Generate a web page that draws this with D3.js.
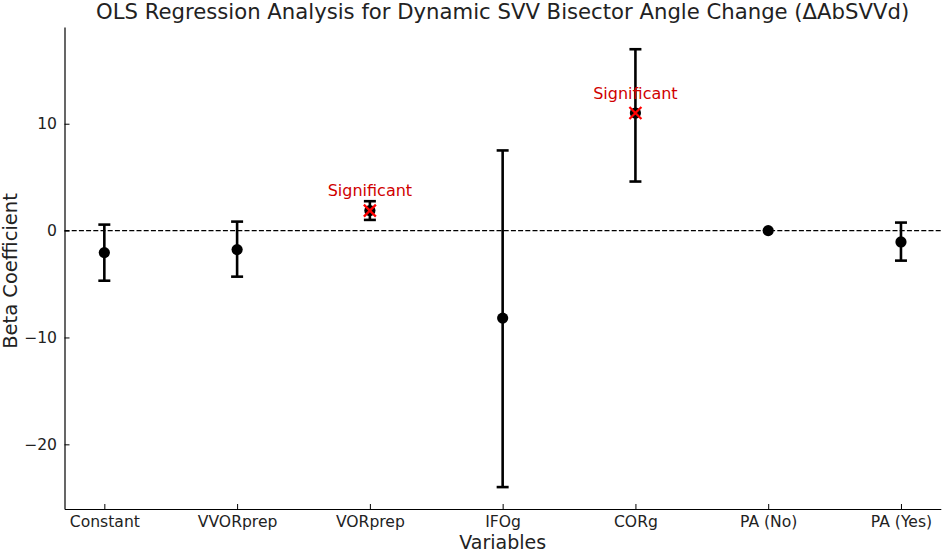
<!DOCTYPE html>
<html>
<head>
<meta charset="utf-8">
<script src="https://cdn.jsdelivr.net/npm/d3@7"></script>
<style>
  html, body { margin: 0; padding: 0; background: #fff; }
  svg { display: block; font-family: "DejaVu Sans", sans-serif; }
</style>
</head>
<body>
<svg id="chart" width="945" height="554"></svg>
<script>
const categories = ["Constant", "VVORprep", "VORprep", "IFOg", "CORg", "PA (No)", "PA (Yes)"];
const coefficients = [-2.06, -1.78, 1.87, -8.19, 11.0, 0.0, -1.06];
const lowerCI = [-4.69, -4.31, 1.0, -24.0, 4.59, null, -2.81];
const upperCI = [0.56, 0.84, 2.75, 7.5, 16.97, null, 0.75];
const significant = [false, false, true, false, true, false, false];
const yTicks = [-20, -10, 0, 10];
const titleText = "OLS Regression Analysis for Dynamic SVV Bisector Angle Change (ΔAbSVVd)";

(function () {
const svg = d3.select("#chart");
const pLeft = 64.5, pRight = 940.8, pTop = 27, pBottom = 509;

const x = d3.scaleLinear().domain([-0.3, categories.length - 1 + 0.3]).range([pLeft, pRight]);
const y = d3.scaleLinear().domain([-26.05, 19.05]).range([pBottom, pTop]);

// zero reference line
svg.append("line")
  .attr("x1", pLeft).attr("x2", pRight)
  .attr("y1", y(0)).attr("y2", y(0))
  .attr("stroke", "#000").attr("stroke-width", 1.3)
  .attr("stroke-dasharray", "5,2.2");

// axes
const yAxis = d3.axisLeft(y).tickValues(yTicks).tickSizeInner(-5).tickSizeOuter(0).tickPadding(7.5)
  .tickFormat(d => d < 0 ? "\u2212" + Math.abs(d) : String(d));
const gy = svg.append("g").attr("transform", `translate(${pLeft},0)`).call(yAxis);
const xAxis = d3.axisBottom(x).tickValues(d3.range(categories.length)).tickSizeInner(-5).tickSizeOuter(0).tickPadding(6.5)
  .tickFormat(i => categories[i]);
const gx = svg.append("g").attr("transform", `translate(0,${pBottom})`).call(xAxis);
[gx, gy].forEach(g => {
  g.select(".domain").attr("stroke", "#000").attr("stroke-width", 1.2);
  g.selectAll(".tick line").attr("stroke", "#000").attr("stroke-width", 1);
  g.selectAll(".tick text").attr("fill", "#222").style("font-size", "15.6px").style("font-family", "DejaVu Sans");
});

// error bars
const data = categories.map((c, i) => ({c, i, b: coefficients[i], lo: lowerCI[i], hi: upperCI[i], sig: significant[i]}));
const eb = data.filter(d => d.lo !== null);
const g = svg.append("g");
g.selectAll("line.err").data(eb).join("line").attr("class", "err")
  .attr("x1", d => x(d.i)).attr("x2", d => x(d.i))
  .attr("y1", d => y(d.lo)).attr("y2", d => y(d.hi))
  .attr("stroke", "#000").attr("stroke-width", 2.6);
["lo", "hi"].forEach(k => {
  g.selectAll("line.cap" + k).data(eb).join("line").attr("class", "cap" + k)
    .attr("x1", d => x(d.i) - 6).attr("x2", d => x(d.i) + 6)
    .attr("y1", d => y(d[k])).attr("y2", d => y(d[k]))
    .attr("stroke", "#000").attr("stroke-width", 2.6);
});
g.selectAll("circle.pt").data(data).join("circle").attr("class", "pt")
  .attr("cx", d => x(d.i)).attr("cy", d => y(d.b)).attr("r", 5.6).attr("fill", "#000");

// significant markers
const sig = data.filter(d => d.sig);
const s = 6;
sig.forEach(d => {
  const cx = x(d.i), cy = y(d.b);
  g.append("path")
    .attr("d", `M${cx - s},${cy - s}L${cx + s},${cy + s}M${cx - s},${cy + s}L${cx + s},${cy - s}`)
    .attr("stroke", "#ff0000").attr("stroke-width", 2.3).attr("fill", "none");
});
g.selectAll("text.sig").data(sig).join("text").attr("class", "sig")
  .attr("x", d => x(d.i)).attr("y", d => y(d.b + 1.35))
  .attr("text-anchor", "middle")
  .attr("fill", "#d00000").style("font-size", "16px")
  .text("Significant");

// labels
svg.append("text").attr("x", (pLeft + pRight) / 2).attr("y", 18.5)
  .attr("text-anchor", "middle").attr("fill", "#222").style("font-size", "21.2px")
  .text(titleText);
svg.append("text").attr("x", (pLeft + pRight) / 2).attr("y", 549)
  .attr("text-anchor", "middle").attr("fill", "#222").style("font-size", "19px")
  .text("Variables");
svg.append("text").attr("transform", `translate(17,${(pTop + pBottom) / 2 + 3}) rotate(-90)`)
  .attr("text-anchor", "middle").attr("fill", "#222").style("font-size", "19.5px")
  .text("Beta Coefficient");
})();
</script>
</body>
</html>
